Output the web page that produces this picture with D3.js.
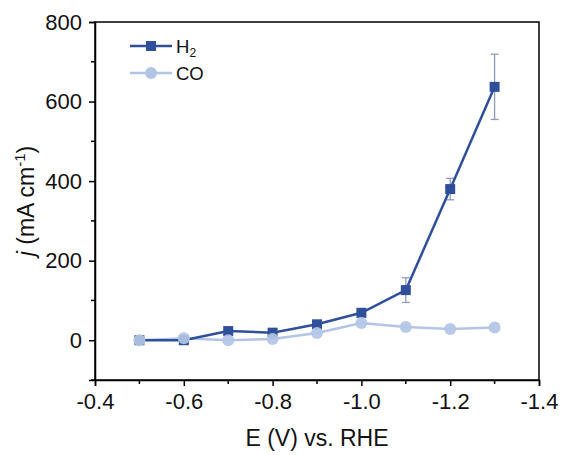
<!DOCTYPE html>
<html>
<head>
<meta charset="utf-8">
<script src="https://cdn.jsdelivr.net/npm/d3@7"></script>
<style>
  body { margin: 0; background: #fff; }
  text { font-family: "Liberation Sans", Arial, sans-serif; }
</style>
</head>
<body>
<div class="chart_container"></div>
<script>
// potentials (V vs RHE)
var potentials = [-0.5, -0.6, -0.7, -0.8, -0.9, -1.0, -1.1, -1.2, -1.3];
var h2Values = [0, 0, 23, 19, 40, 69, 126, 380, 637];
var h2Errors = [0, 0, 0, 0, 0, 0, 31, 27, 82];
var coValues = [0, 5, 0, 3, 18, 43, 33, 28, 32];
var xTicks = [-0.4, -0.6, -0.8, -1.0, -1.2, -1.4];
var yTicks = [0, 200, 400, 600, 800];

var width = 563, height = 455;
var margin = {top: 22, right: 24, bottom: 75, left: 95};

var svg = d3.select(".chart_container").append("svg")
    .attr("width", width)
    .attr("height", height);

var x = d3.scaleLinear()
    .domain([-0.4, -1.4])
    .range([margin.left, width - margin.right]);

var y = d3.scaleLinear()
    .domain([-100, 800])
    .range([height - margin.bottom, margin.top]);

var h2Color = "#2f4f9b";
var coColor = "#b3c5e6";
var errColor = "#8e9cba";
var fs = 22;

// frame
svg.append("rect")
    .attr("x", x(-0.4))
    .attr("y", y(800))
    .attr("width", x(-1.4) - x(-0.4))
    .attr("height", y(-100) - y(800))
    .attr("fill", "none")
    .attr("stroke", "#000")
    .attr("stroke-width", 1.5);

// minor ticks
var xMinor = [-0.5, -0.7, -0.9, -1.1, -1.3];
var yMinor = [-100, 100, 300, 500, 700];

var xAxis = svg.append("g")
    .attr("transform", "translate(0," + y(-100) + ")")
    .call(d3.axisBottom(x).tickValues(xTicks).tickFormat(d => d3.format(".1f")(d).replace("\u2212", "-")).tickSize(6).tickPadding(7));
xAxis.selectAll("text").attr("font-size", fs).attr("fill", "#111");
xAxis.selectAll("line").attr("stroke-width", 1.5);
xAxis.select(".domain").attr("stroke-width", 1.5);

svg.append("g")
    .attr("transform", "translate(0," + y(-100) + ")")
    .selectAll("line")
    .data(xMinor)
    .enter().append("line")
        .attr("x1", d => x(d)).attr("x2", d => x(d))
        .attr("y1", 0).attr("y2", 4)
        .attr("stroke", "#000").attr("stroke-width", 1.5);

var yAxis = svg.append("g")
    .attr("transform", "translate(" + x(-0.4) + ",0)")
    .call(d3.axisLeft(y).tickValues(yTicks).tickSize(6).tickPadding(7));
yAxis.selectAll("text").attr("font-size", fs).attr("fill", "#111");
yAxis.selectAll("line").attr("stroke-width", 1.5);
yAxis.select(".domain").attr("stroke-width", 1.5);

svg.append("g")
    .attr("transform", "translate(" + x(-0.4) + ",0)")
    .selectAll("line")
    .data(yMinor)
    .enter().append("line")
        .attr("x1", 0).attr("x2", -4)
        .attr("y1", d => y(d)).attr("y2", d => y(d))
        .attr("stroke", "#000").attr("stroke-width", 1.5);

// axis titles
svg.append("text")
    .attr("x", (x(-0.4) + x(-1.4)) / 2)
    .attr("y", 446)
    .attr("text-anchor", "middle")
    .attr("font-size", 23)
    .attr("fill", "#111")
    .text("E (V) vs. RHE");

var yl = svg.append("text")
    .attr("transform", "translate(34,201) rotate(-90)")
    .attr("text-anchor", "middle")
    .attr("font-size", 23)
    .attr("fill", "#111");
yl.append("tspan").attr("font-style", "italic").text("j");
yl.append("tspan").text(" (mA cm");
yl.append("tspan").attr("font-size", 15).attr("dy", -9).text("-1");
yl.append("tspan").attr("dy", 9).text(")");

var h2Data = potentials.map((p, i) => ({x: p, y: h2Values[i], e: h2Errors[i]}));
var coData = potentials.map((p, i) => ({x: p, y: coValues[i]}));

var line = d3.line().x(d => x(d.x)).y(d => y(d.y));

// CO series
svg.append("path")
    .datum(coData)
    .attr("d", line)
    .attr("fill", "none")
    .attr("stroke", coColor)
    .attr("stroke-width", 2.5);

// H2 error bars
var eb = svg.append("g").selectAll("g")
    .data(h2Data.filter(d => d.e > 0))
    .enter().append("g")
    .attr("stroke", errColor)
    .attr("stroke-width", 1.3);
eb.append("line")
    .attr("x1", d => x(d.x)).attr("x2", d => x(d.x))
    .attr("y1", d => y(d.y + d.e)).attr("y2", d => y(d.y - d.e));
eb.append("line")
    .attr("x1", d => x(d.x) - 4).attr("x2", d => x(d.x) + 4)
    .attr("y1", d => y(d.y + d.e)).attr("y2", d => y(d.y + d.e));
eb.append("line")
    .attr("x1", d => x(d.x) - 4).attr("x2", d => x(d.x) + 4)
    .attr("y1", d => y(d.y - d.e)).attr("y2", d => y(d.y - d.e));

// H2 series
svg.append("path")
    .datum(h2Data)
    .attr("d", line)
    .attr("fill", "none")
    .attr("stroke", h2Color)
    .attr("stroke-width", 2.5);

svg.append("g").selectAll("rect")
    .data(h2Data)
    .enter().append("rect")
        .attr("x", d => x(d.x) - 5)
        .attr("y", d => y(d.y) - 5)
        .attr("width", 10)
        .attr("height", 10)
        .attr("fill", h2Color);

svg.append("g").selectAll("circle")
    .data(coData)
    .enter().append("circle")
        .attr("cx", d => x(d.x))
        .attr("cy", d => y(d.y))
        .attr("r", 6)
        .attr("fill", coColor)
        .attr("fill-opacity", 0.92);

// legend
var legend = svg.append("g").attr("transform", "translate(130,46)");
legend.append("line").attr("x1", 0).attr("x2", 42).attr("y1", 0).attr("y2", 0)
    .attr("stroke", h2Color).attr("stroke-width", 2.5);
legend.append("rect").attr("x", 16).attr("y", -5).attr("width", 10).attr("height", 10).attr("fill", h2Color);
var t1 = legend.append("text").attr("x", 46).attr("y", 7).attr("font-size", 18.5).attr("fill", "#111");
t1.append("tspan").text("H");
t1.append("tspan").attr("font-size", 12).attr("dy", 4).text("2");

legend.append("line").attr("x1", 0).attr("x2", 42).attr("y1", 27).attr("y2", 27)
    .attr("stroke", coColor).attr("stroke-width", 2.5);
legend.append("circle").attr("cx", 21).attr("cy", 27).attr("r", 6).attr("fill", coColor);
legend.append("text").attr("x", 46).attr("y", 34).attr("font-size", 18.5).attr("fill", "#111").text("CO");
</script>
</body>
</html>
